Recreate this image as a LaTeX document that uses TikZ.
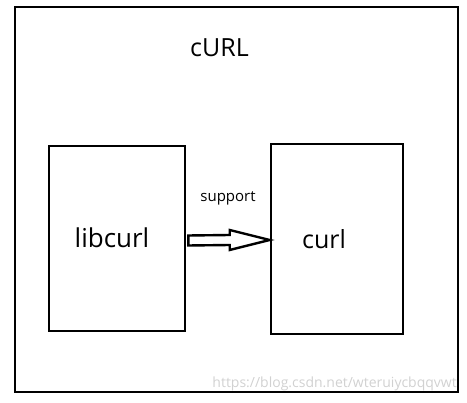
\documentclass[tikz,border=0pt]{standalone}
\usepackage{fontspec}
\setmainfont{Open Sans}
\usetikzlibrary{calc}
\begin{document}
\begin{tikzpicture}[x=1pt,y=-1pt,
  frame/.style={draw=black,line width=2.6pt,minimum width=#1,inner sep=0pt},
  blockarrow/.style={draw=black,line width=2.4pt,fill=white,line join=miter},
  lbl/.style={inner sep=0pt,text=black}]
\useasboundingbox (0,0) rectangle (467,403);
\node[frame=443,minimum height=385] (outer) at (236.5,199.5) {};
\node[frame=136,minimum height=185] (lib) at (117,238.5) {};
\node[frame=132,minimum height=190] (curlbox) at (337,239) {};
\node[lbl,font=\fontsize{25}{30}\selectfont] (title) at (219.5,48) {cURL};
\node[lbl,font=\fontsize{26}{30}\selectfont] (libtxt) at (112,238) {libcurl};
\node[lbl,font=\fontsize{25}{30}\selectfont] (curltxt) at (324,239) {curl};
\node[lbl,font=\fontsize{15}{18}\selectfont] (sup) at (228,198) {support};
\node[lbl,font=\fontsize{14}{16}\selectfont,text=black!18,anchor=east] (wm) at (457,384) {https://blog.csdn.net/wteruiycbqqvwt};
\path (lib.east) ++(2,2) coordinate (as);
\path (curlbox.west) ++(0,1) coordinate (at);
\draw[blockarrow] ($(as)+(0,-5)$) -- ($(at)+(-40,-5)$) -- ($(at)+(-40,-10)$) -- (at) -- ($(at)+(-40,10)$) -- ($(at)+(-40,5)$) -- ($(as)+(0,5)$) -- cycle;
\end{tikzpicture}
\end{document}
